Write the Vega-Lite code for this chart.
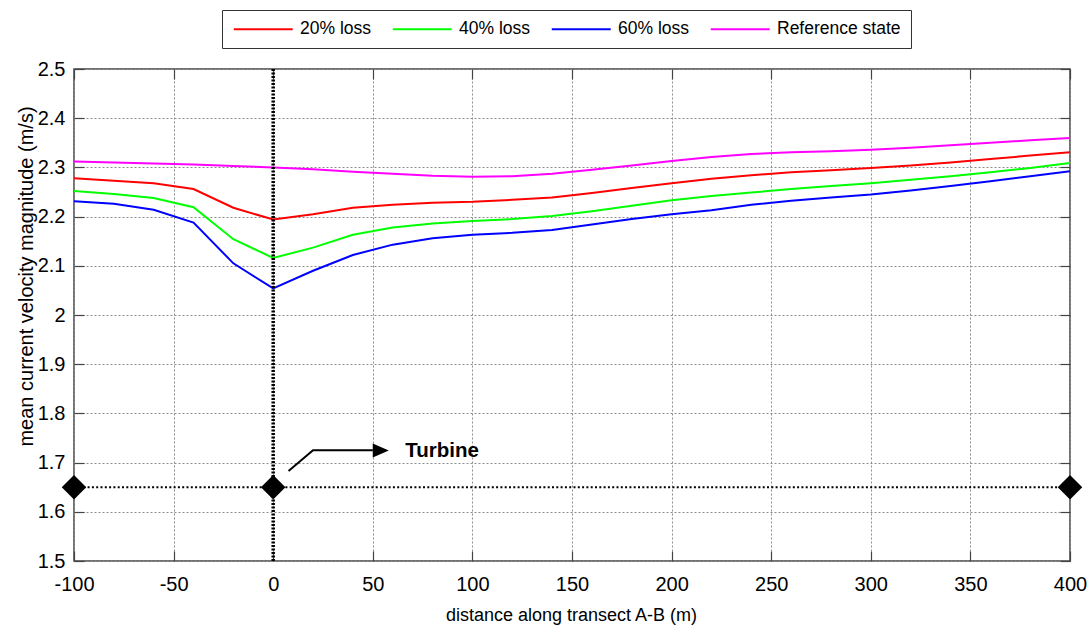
{
  "$schema": "https://vega.github.io/schema/vega-lite/v6.json",
  "width": 996,
  "height": 492,
  "autosize": "none",
  "padding": {"left": 74, "top": 69, "right": 22, "bottom": 64},
  "background": "white",
  "config": {
    "font": "Liberation Sans",
    "view": {"stroke": "#444444", "strokeWidth": 1.5}
  },
  "layer": [
    {
      "data": {
        "values": [
          {"x": -100, "20% loss": 2.278, "40% loss": 2.252, "60% loss": 2.231, "Reference state": 2.312},
          {"x": -80, "20% loss": 2.273, "40% loss": 2.246, "60% loss": 2.226, "Reference state": 2.310},
          {"x": -60, "20% loss": 2.268, "40% loss": 2.238, "60% loss": 2.214, "Reference state": 2.308},
          {"x": -40, "20% loss": 2.256, "40% loss": 2.219, "60% loss": 2.188, "Reference state": 2.306},
          {"x": -20, "20% loss": 2.218, "40% loss": 2.154, "60% loss": 2.105, "Reference state": 2.303},
          {"x": 0, "20% loss": 2.194, "40% loss": 2.116, "60% loss": 2.054, "Reference state": 2.300},
          {"x": 20, "20% loss": 2.205, "40% loss": 2.137, "60% loss": 2.090, "Reference state": 2.296},
          {"x": 40, "20% loss": 2.218, "40% loss": 2.163, "60% loss": 2.122, "Reference state": 2.291},
          {"x": 60, "20% loss": 2.224, "40% loss": 2.178, "60% loss": 2.143, "Reference state": 2.287},
          {"x": 80, "20% loss": 2.228, "40% loss": 2.186, "60% loss": 2.156, "Reference state": 2.283},
          {"x": 100, "20% loss": 2.230, "40% loss": 2.191, "60% loss": 2.163, "Reference state": 2.281},
          {"x": 120, "20% loss": 2.234, "40% loss": 2.195, "60% loss": 2.167, "Reference state": 2.282},
          {"x": 140, "20% loss": 2.239, "40% loss": 2.201, "60% loss": 2.173, "Reference state": 2.287},
          {"x": 160, "20% loss": 2.248, "40% loss": 2.211, "60% loss": 2.184, "Reference state": 2.295},
          {"x": 180, "20% loss": 2.258, "40% loss": 2.222, "60% loss": 2.195, "Reference state": 2.304},
          {"x": 200, "20% loss": 2.268, "40% loss": 2.233, "60% loss": 2.205, "Reference state": 2.313},
          {"x": 220, "20% loss": 2.277, "40% loss": 2.242, "60% loss": 2.213, "Reference state": 2.321},
          {"x": 240, "20% loss": 2.284, "40% loss": 2.249, "60% loss": 2.224, "Reference state": 2.327},
          {"x": 260, "20% loss": 2.290, "40% loss": 2.256, "60% loss": 2.232, "Reference state": 2.331},
          {"x": 280, "20% loss": 2.294, "40% loss": 2.262, "60% loss": 2.239, "Reference state": 2.333},
          {"x": 300, "20% loss": 2.299, "40% loss": 2.268, "60% loss": 2.245, "Reference state": 2.336},
          {"x": 320, "20% loss": 2.304, "40% loss": 2.275, "60% loss": 2.253, "Reference state": 2.340},
          {"x": 340, "20% loss": 2.310, "40% loss": 2.282, "60% loss": 2.262, "Reference state": 2.345},
          {"x": 360, "20% loss": 2.317, "40% loss": 2.290, "60% loss": 2.272, "Reference state": 2.350},
          {"x": 380, "20% loss": 2.324, "40% loss": 2.299, "60% loss": 2.282, "Reference state": 2.355},
          {"x": 400, "20% loss": 2.331, "40% loss": 2.309, "60% loss": 2.292, "Reference state": 2.360}
        ]
      },
      "transform": [
        {"fold": ["20% loss", "40% loss", "60% loss", "Reference state"], "as": ["series", "v"]}
      ],
      "mark": {"type": "line", "strokeWidth": 2, "clip": true},
      "encoding": {
        "x": {
          "field": "x",
          "type": "quantitative",
          "scale": {"domain": [-100, 400], "nice": false, "zero": false},
          "axis": {
            "orient": "bottom",
            "values": [-100, -50, 0, 50, 100, 150, 200, 250, 300, 350, 400],
            "labelExpr": "'' + datum.value",
            "labelFlush": false,
            "labelOverlap": false,
            "labelFont": "Liberation Sans",
            "labelFontSize": 20,
            "labelColor": "#000000",
            "labelPadding": 23,
            "grid": true,
            "gridColor": "#8c8c8c",
            "gridDash": [2, 2],
            "gridWidth": 1,
            "domain": false,
            "ticks": true,
            "tickSize": -10,
            "tickColor": "#444444",
            "tickWidth": 1.2,
            "title": "distance along transect A-B (m)",
            "titleFont": "Liberation Sans",
            "titleFontSize": 18,
            "titleFontWeight": "normal",
            "titleColor": "#000000",
            "titleBaseline": "alphabetic",
            "titleX": 497,
            "titleY": 59
          }
        },
        "y": {
          "field": "v",
          "type": "quantitative",
          "scale": {"domain": [1.5, 2.5], "nice": false, "zero": false},
          "axis": {
            "orient": "left",
            "values": [1.5, 1.6, 1.7, 1.8, 1.9, 2.0, 2.1, 2.2, 2.3, 2.4, 2.5],
            "format": "~g",
            "labelFlush": false,
            "labelOverlap": false,
            "labelFont": "Liberation Sans",
            "labelFontSize": 20,
            "labelColor": "#000000",
            "labelPadding": 19,
            "grid": true,
            "gridColor": "#8c8c8c",
            "gridDash": [2, 2],
            "gridWidth": 1,
            "domain": false,
            "ticks": true,
            "tickSize": -10,
            "tickColor": "#444444",
            "tickWidth": 1.2,
            "title": "mean current velocity magnitude (m/s)",
            "titleFont": "Liberation Sans",
            "titleFontSize": 20,
            "titleFontWeight": "normal",
            "titleColor": "#000000",
            "titleBaseline": "alphabetic",
            "titleX": -42,
            "titleY": 207
          }
        },
        "color": {
          "field": "series",
          "type": "nominal",
          "scale": {
            "domain": ["20% loss", "40% loss", "60% loss", "Reference state"],
            "range": ["#ff0000", "#00ff00", "#0000ff", "#ff00ff"]
          },
          "legend": {
            "orient": "none",
            "legendX": 148,
            "legendY": -59,
            "direction": "horizontal",
            "title": null,
            "symbolType": "M-5,0H5",
            "symbolSize": 139,
            "symbolStrokeWidth": 2,
            "symbolOffset": 22.5,
            "labelFont": "Liberation Sans",
            "labelFontSize": 17.5,
            "labelColor": "#000000",
            "labelOffset": 28,
            "columnPadding": 16,
            "padding": 10,
            "strokeColor": "#333333",
            "fillColor": "#ffffff"
          }
        }
      }
    },
    {
      "data": {"values": [{"x": 0}]},
      "mark": {"type": "rule", "color": "#000000", "strokeWidth": 3.5, "strokeDash": [2, 1.5]},
      "encoding": {
        "x": {"field": "x", "type": "quantitative", "axis": null}
      }
    },
    {
      "data": {"values": [{"y": 1.65}]},
      "mark": {"type": "rule", "color": "#000000", "strokeWidth": 2, "strokeDash": [2, 2.3]},
      "encoding": {
        "y": {"field": "y", "type": "quantitative", "axis": null}
      }
    },
    {
      "data": {"values": [{"x": -100, "y": 1.65}, {"x": 0, "y": 1.65}, {"x": 400, "y": 1.65}]},
      "mark": {"type": "point", "shape": "diamond", "filled": true, "size": 600, "color": "#000000", "opacity": 1, "clip": false},
      "encoding": {
        "x": {
          "field": "x",
          "type": "quantitative",
          "axis": {
            "orient": "top",
            "values": [-100, -50, 0, 50, 100, 150, 200, 250, 300, 350, 400],
            "labels": false,
            "grid": false,
            "domain": false,
            "ticks": true,
            "tickSize": -10,
            "tickColor": "#444444",
            "tickWidth": 1.2,
            "title": null
          }
        },
        "y": {
          "field": "y",
          "type": "quantitative",
          "axis": {
            "orient": "right",
            "values": [1.5, 1.6, 1.7, 1.8, 1.9, 2.0, 2.1, 2.2, 2.3, 2.4, 2.5],
            "labels": false,
            "grid": false,
            "domain": false,
            "ticks": true,
            "tickSize": -10,
            "tickColor": "#444444",
            "tickWidth": 1.2,
            "title": null
          }
        }
      }
    },
    {
      "data": {"values": [{"x": 7.7, "y": 1.683}, {"x": 20, "y": 1.725}, {"x": 50, "y": 1.725}]},
      "mark": {"type": "line", "color": "#000000", "strokeWidth": 2},
      "encoding": {
        "x": {"field": "x", "type": "quantitative", "axis": null},
        "y": {"field": "y", "type": "quantitative", "axis": null}
      }
    },
    {
      "data": {"values": [{"x": 54, "y": 1.7246}]},
      "mark": {"type": "point", "shape": "M-1,-0.875L1,0L-1,0.875Z", "filled": true, "size": 256, "color": "#000000", "opacity": 1},
      "encoding": {
        "x": {"field": "x", "type": "quantitative", "axis": null},
        "y": {"field": "y", "type": "quantitative", "axis": null}
      }
    },
    {
      "data": {"values": [{"x": 66.3, "y": 1.7108, "label": "Turbine"}]},
      "mark": {"type": "text", "font": "Liberation Sans", "fontSize": 20.5, "fontWeight": "bold", "align": "left", "baseline": "alphabetic", "color": "#000000"},
      "encoding": {
        "x": {"field": "x", "type": "quantitative", "axis": null},
        "y": {"field": "y", "type": "quantitative", "axis": null},
        "text": {"field": "label"}
      }
    }
  ],
  "resolve": {"axis": {"x": "independent", "y": "independent"}}
}
